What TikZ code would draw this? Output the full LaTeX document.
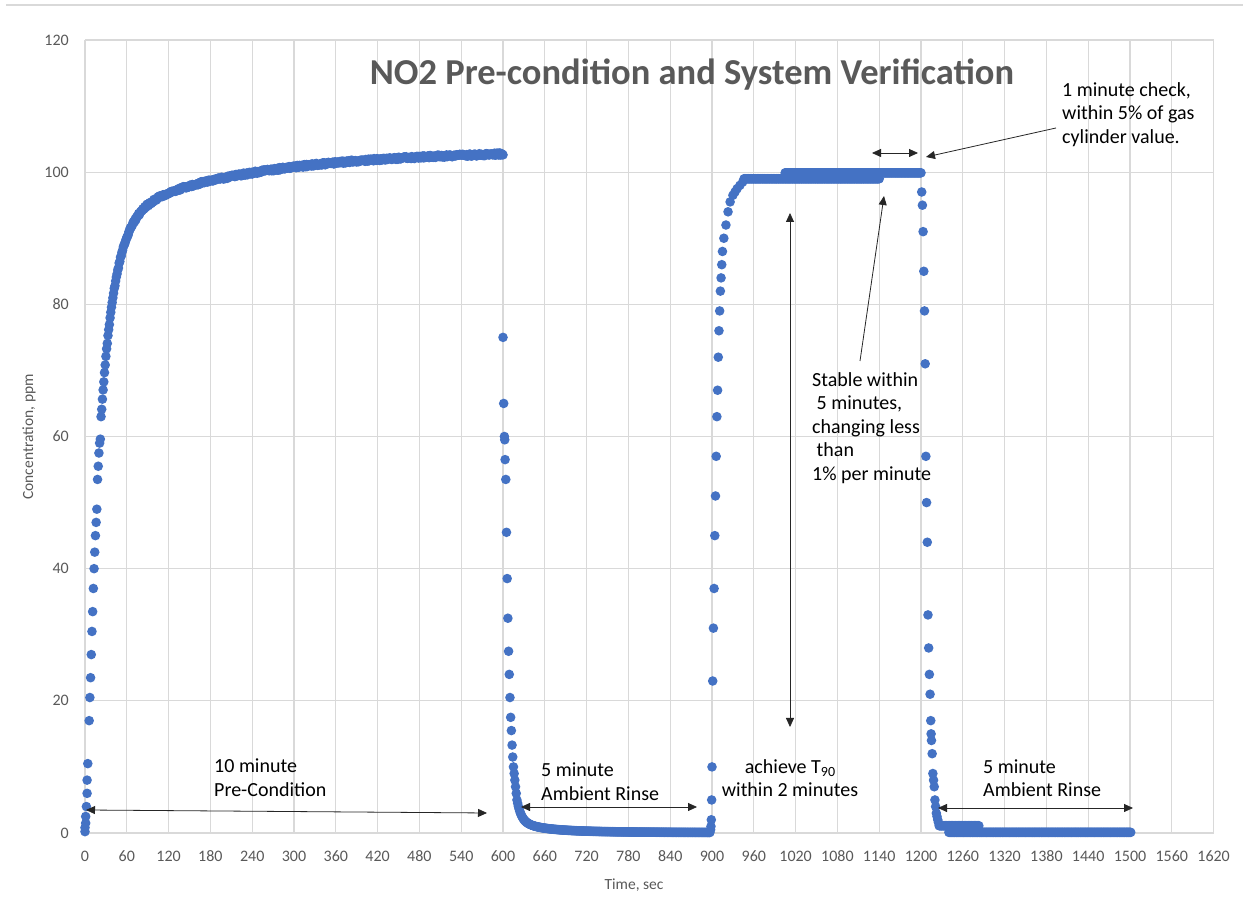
\documentclass[tikz,border=0pt]{standalone}
\usepackage{fontspec}
\setmainfont{Carlito}
\usetikzlibrary{arrows.meta}
\definecolor{dotblue}{HTML}{4472C4}
\definecolor{txtgray}{HTML}{595959}
\definecolor{gridgray}{HTML}{D9D9D9}
\begin{document}
\begin{tikzpicture}[x=1pt,y=1pt,
  gridline/.style={draw=gridgray,line width=1.2pt},
  ticklab/.style={text=txtgray,font=\fontsize{16}{18}\selectfont,inner sep=0pt},
  axtitle/.style={text=txtgray,font=\fontsize{15.5}{18}\selectfont,inner sep=0pt},
  note/.style={text=black,font=\fontsize{20}{23.5}\selectfont,inner sep=0pt,align=left},
  pt/.style={fill=dotblue},
  tipa/.style={-{Triangle[length=9pt,width=8pt]},line width=0.8pt,draw=black!85},
  tipb/.style={{Triangle[length=9pt,width=8pt]}-{Triangle[length=9pt,width=8pt]},line width=0.8pt,draw=black!85}]
\pgfmathsetseed{7}
\useasboundingbox (0,0) rectangle (1243,907);
\fill[white] (0,0) rectangle (1243,907);
\draw[gridgray,line width=1.5pt] (6,902) -- (1243,902);
% grid
\foreach \i in {0,...,27} \draw[gridline] ({85+\i*41.8},74) -- ({85+\i*41.8},867);
\foreach \j in {0,...,6} \draw[gridline] (85,{74+\j*132.17}) -- (1213.6,{74+\j*132.17});
% tick labels
\foreach \i [evaluate=\i as \lab using int(60*\i)] in {0,...,27}
  \node[ticklab] (xt\i) at ({85+\i*41.8},51) {\lab};
\foreach \j [evaluate=\j as \lab using int(20*\j)] in {0,...,6}
  \node[ticklab,anchor=east] (yt\j) at (69,{74+\j*132.17}) {\lab};
\node[axtitle] (xtitle) at (634,22) {Time, sec};
\node[axtitle,rotate=90] (ytitle) at (29,470) {Concentration, ppm};
\node[text=txtgray,font=\fontsize{36.5}{40}\bfseries\selectfont,inner sep=0pt] (title) at (692,832) {NO2 Pre-condition and System Verification};
% data
\begin{scope}[shift={(85,74)},x=0.69667pt,y=6.6083pt]
\foreach \t/\v in {0/0.2,0/0.8,1/1.5,1/2.5,2/4,3/6,3/8,4/10.5,6/17,7/20.5,8/23.5,9/27,10/30.5,11/33.5,12/37,13/40,14/42.5,15/45,16/47,17/49,18/53.5,19/55.5,20/57.5,21/59,22/59.6,23/63}
  \fill[pt] (\t,\v) circle[radius=4.8pt];
\foreach \t in {24,...,600} {
  \pgfmathsetmacro\v{92*(1-exp(-min((\t-1)/20,12)))+11.3*(1-exp(-min(\t/200,12)))+0.18*rand}
  \fill[pt] (\t,\v) circle[radius=4.8pt];}
\foreach \t/\v in {600/75,601/65,602/60,602.5/59.5,603/56.5,604/53.5,605/45.5,606/38.5,607/32.5,608/27.5,609/24,610/20.5,611/17.5,612/15.5,613/13.3,614/11.5,615/10,616/9,617/8,618/7,619/6,620/5}
  \fill[pt] (\t,\v) circle[radius=4.8pt];
\foreach \t in {621,...,897} {
  \pgfmathsetmacro\v{3.2*exp(-min((\t-620)/6,12))+1.3*exp(-min((\t-620)/30,12))+0.5*exp(-min((\t-620)/100,12))+0.05}
  \fill[pt] (\t,\v) circle[radius=4.8pt];}
\foreach \t/\v in {898/0.5,898.5/1,899/2,899.5/5,900/10,901/23,902/31,903/37,904/45,905/51,906/57,907/63,908/67,909/72,910/76,911/79,912/82,913/84,914/86,915/88,917/90,920/92,923/94,926/95.5,930/96.5,933/97,936/97.5,940/98,944/98.5}
  \fill[pt] (\t,\v) circle[radius=4.8pt];
\foreach \t in {946,...,1140} \fill[pt] (\t,99) circle[radius=4.8pt];
\foreach \t in {1005,...,1200} \fill[pt] (\t,99.9) circle[radius=4.8pt];
\foreach \t/\v in {1201/97,1202/95,1203/91,1204/85,1205/79,1206/71,1207/57,1208/50,1209/44,1210/33,1211/28,1212/24,1213/21,1214/17,1214.5/15,1215/14,1216/12,1217/9,1218/8,1219/7,1220/5,1221/4,1222/3,1223/2.5,1224/2,1225/1.6}
  \fill[pt] (\t,\v) circle[radius=4.8pt];
\foreach \t in {1226,...,1283} \fill[pt] (\t,1.1) circle[radius=4.8pt];
\foreach \t in {1240,...,1501} \fill[pt] (\t,0.1) circle[radius=4.8pt];
\end{scope}
% annotations
\node[note,anchor=west] (n1) at (214,129.5) {10 minute\\Pre-Condition};
\coordinate (a1s) at (86,97); \coordinate (a1e) at (487,94);
\draw[tipb] (a1s) -- (a1e);
\node[note,anchor=west] (n2) at (541,125.5) {5 minute\\Ambient Rinse};
\coordinate (a2s) at (521,100); \coordinate (a2e) at (697,100);
\draw[tipb] (a2s) -- (a2e);
\node[note,align=center] (n3) at (790,129) {achieve T{\fontsize{14}{14}\selectfont\raisebox{-3.5pt}{90}}\\within 2 minutes};
\coordinate (a3s) at (790,694); \coordinate (a3e) at (790,180);
\draw[tipb] (a3s) -- (a3e);
\node[note,anchor=west] (n4) at (812,479) {Stable within\\\ 5 minutes,\\changing less\\\ than\\1\% per minute};
\coordinate (a4s) at (860,546); \coordinate (a4e) at (884,711);
\draw[tipa] (a4s) -- (a4e);
\coordinate (a5s) at (872,754); \coordinate (a5e) at (918,754);
\draw[tipb] (a5s) -- (a5e);
\node[note,anchor=west] (n5) at (1062,792.5) {1 minute check,\\within 5\% of gas\\cylinder value.};
\coordinate (a6s) at (1056,779); \coordinate (a6e) at (926,750);
\draw[tipa] (a6s) -- (a6e);
\node[note,anchor=west] (n6) at (983,129) {5 minute\\Ambient Rinse};
\coordinate (a7s) at (938,99); \coordinate (a7e) at (1133,99);
\draw[tipb] (a7s) -- (a7e);
\end{tikzpicture}
\end{document}
